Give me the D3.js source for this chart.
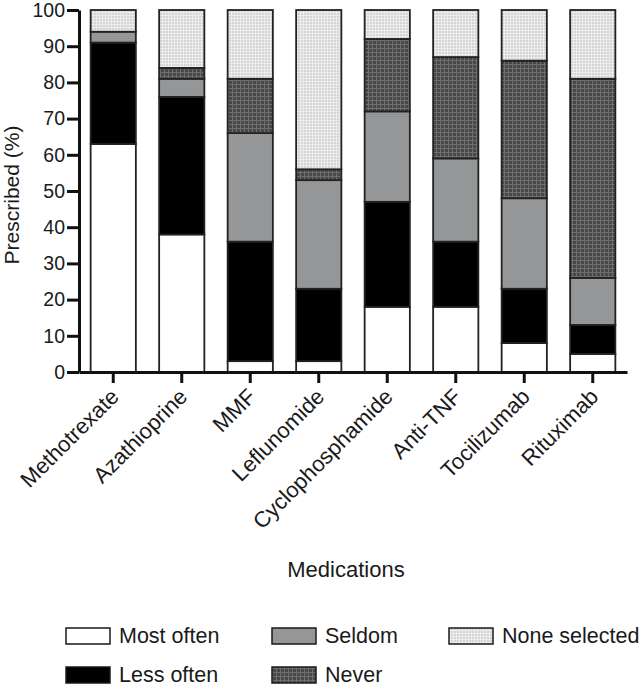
<!DOCTYPE html>
<html>
<head>
<meta charset="utf-8">
<script src="https://cdn.jsdelivr.net/npm/d3@7"></script>
<style>
  html, body { margin: 0; padding: 0; background: #fff; }
  svg { display: block; }
  text { font-family: "Liberation Sans", Arial, sans-serif; fill: #1a1a1a; }
</style>
</head>
<body>
<svg id="chart" width="642" height="687"></svg>
<script>
const categories = ["Methotrexate", "Azathioprine", "MMF", "Leflunomide", "Cyclophosphamide", "Anti-TNF", "Tocilizumab", "Rituximab"];
const mostOften    = [63, 38, 3, 3, 18, 18, 8, 5];
const lessOften    = [28, 38, 33, 20, 29, 18, 15, 8];
const seldom       = [3, 5, 30, 30, 25, 23, 25, 13];
const never        = [0, 3, 15, 3, 20, 28, 38, 55];
const noneSelected = [6, 16, 19, 44, 8, 13, 14, 19];
const seriesNames  = ["Most often", "Less often", "Seldom", "Never", "None selected"];
const yTicks       = [0, 10, 20, 30, 40, 50, 60, 70, 80, 90, 100];

const svg = d3.select("#chart");
const defs = svg.append("defs");

// Patterns
const pNever = defs.append("pattern").attr("id", "pNever").attr("patternUnits", "userSpaceOnUse")
  .attr("width", 4).attr("height", 4);
pNever.append("rect").attr("width", 4).attr("height", 4).attr("fill", "#484848");
pNever.append("rect").attr("x", 0).attr("y", 0).attr("width", 4).attr("height", 1).attr("fill", "#6e6e6e");
pNever.append("rect").attr("x", 0).attr("y", 0).attr("width", 1).attr("height", 4).attr("fill", "#6e6e6e");

const pNone = defs.append("pattern").attr("id", "pNone").attr("patternUnits", "userSpaceOnUse")
  .attr("width", 3).attr("height", 3);
pNone.append("rect").attr("width", 3).attr("height", 3).attr("fill", "#d4d4d4");
pNone.append("rect").attr("x", 0).attr("y", 0).attr("width", 3).attr("height", 1).attr("fill", "#ececec");
pNone.append("rect").attr("x", 0).attr("y", 0).attr("width", 1).attr("height", 3).attr("fill", "#ececec");

const pSeldom = defs.append("pattern").attr("id", "pSeldom").attr("patternUnits", "userSpaceOnUse")
  .attr("width", 2).attr("height", 2);
pSeldom.append("rect").attr("width", 2).attr("height", 2).attr("fill", "#97989a");
pSeldom.append("rect").attr("width", 1).attr("height", 1).attr("fill", "#8f9092");

const fills = ["#ffffff", "#000000", "url(#pSeldom)", "url(#pNever)", "url(#pNone)"];

const x = d3.scaleBand().domain(categories).range([79, 627]).paddingInner(0.34).paddingOuter(0.17);
const y = d3.scaleLinear().domain([0, 100]).range([372, 10]);

const table = categories.map((c, i) => ({
  cat: c,
  "Most often": mostOften[i],
  "Less often": lessOften[i],
  "Seldom": seldom[i],
  "Never": never[i],
  "None selected": noneSelected[i]
}));
const stacked = d3.stack().keys(seriesNames)(table);

const gBars = svg.append("g");
stacked.forEach((layer, li) => {
  gBars.selectAll(null).data(layer).enter().append("rect")
    .attr("x", d => x(d.data.cat))
    .attr("width", x.bandwidth())
    .attr("y", d => y(d[1]))
    .attr("height", d => y(d[0]) - y(d[1]))
    .attr("fill", fills[li])
    .attr("stroke", "#222")
    .attr("stroke-width", 1.8);
});

// Y axis
const yAxis = svg.append("g").attr("transform", "translate(79,0)")
  .call(d3.axisLeft(y).tickValues(yTicks).tickSize(12).tickSizeOuter(0).tickPadding(2));
yAxis.selectAll("path.domain").attr("stroke", "#111").attr("stroke-width", 3);
yAxis.selectAll(".tick line").attr("stroke", "#111").attr("stroke-width", 3);
yAxis.selectAll(".tick text").style("font-size", "19.5px").style("font-family", "'Liberation Sans', Arial, sans-serif").attr("fill", "#1a1a1a");

// X axis
const xAxis = svg.append("g").attr("transform", "translate(0,372)")
  .call(d3.axisBottom(x).tickSize(11).tickSizeOuter(0));
xAxis.selectAll("path.domain").attr("stroke", "#111").attr("stroke-width", 3);
xAxis.selectAll(".tick line").attr("stroke", "#111").attr("stroke-width", 3);
xAxis.selectAll(".tick text")
  .style("font-size", "22px").style("font-family", "'Liberation Sans', Arial, sans-serif")
  .attr("fill", "#1a1a1a")
  .attr("text-anchor", "end")
  .attr("dy", null)
  .attr("y", 0)
  .attr("transform", "translate(7,26) rotate(-45)");

// Axis titles
svg.append("text").attr("transform", "translate(19,195) rotate(-90)")
  .attr("text-anchor", "middle").style("font-size", "21px").text("Prescribed (%)");
svg.append("text").attr("x", 346).attr("y", 577)
  .attr("text-anchor", "middle").style("font-size", "22px").text("Medications");

// Legend
const legendPos = [
  { bx: 66, by: 628 }, { bx: 66, by: 667 },
  { bx: 272, by: 628 }, { bx: 272, by: 667 },
  { bx: 449, by: 628 }
];
const legendFills = ["#ffffff", "#000000", "url(#pSeldom)", "url(#pNever)", "url(#pNone)"];
seriesNames.forEach((name, i) => {
  const p = legendPos[i];
  const g = svg.append("g");
  g.append("rect").attr("x", p.bx).attr("y", p.by).attr("width", 44).attr("height", 16)
    .attr("fill", legendFills[i]).attr("stroke", "#1a1a1a").attr("stroke-width", 1.5);
  g.append("text").attr("x", p.bx + 53).attr("y", p.by + 15)
    .style("font-size", "21.5px").text(name);
});
</script>
</body>
</html>
